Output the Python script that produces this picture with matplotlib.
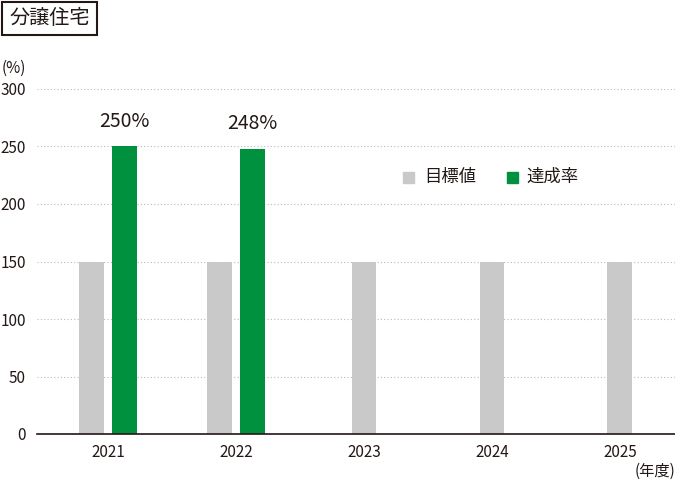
import numpy as np
import matplotlib.pyplot as plt
from matplotlib.patches import Rectangle

plt.rcParams['font.family'] = ['Noto Sans CJK JP', 'DejaVu Sans']

# データ
years = ['2021', '2022', '2023', '2024', '2025']
target = [150, 150, 150, 150, 150]
achieved = [250, 248, None, None, None]
achieved_labels = ['250%', '248%']

gray = '#c9c9c9'
green = '#00913f'
txt = '#231815'

fig = plt.figure(figsize=(6.75, 4.83), dpi=100)
ax = fig.add_axes([37 / 675, 1 - 434 / 483, (675 - 37) / 675, 345 / 483])

x = np.arange(len(years))
w = 0.195
off = 0.13
for i in x:
    if achieved[i] is not None:
        ax.bar(i - off, target[i], w, color=gray, zorder=3)
        ax.bar(i + off, achieved[i], w, color=green, zorder=3)
        ax.text(i + off, achieved[i] + 13, achieved_labels[i], ha='center', va='bottom',
                fontsize=14, color=txt)
    else:
        ax.bar(i, target[i], w, color=gray, zorder=3)

ax.set_xlim(-0.555, 4.43)
ax.set_ylim(0, 300)
ax.set_yticks(range(0, 301, 50))
ax.set_xticks(x)
ax.set_xticklabels(years)
ax.tick_params(length=0, labelsize=11, colors=txt)
ax.tick_params(axis='y', pad=8)
ax.tick_params(axis='x', pad=7)
ax.grid(axis='y', color='#bbbbbb', linestyle=(0, (1, 2)), linewidth=0.8, zorder=0)
for s in ['top', 'right', 'left']:
    ax.spines[s].set_visible(False)
ax.spines['bottom'].set_color(txt)
ax.spines['bottom'].set_linewidth(1.2)
ax.spines['bottom'].set_zorder(4)

# 単位
fig.text(2 / 675, 1 - 68 / 483, '(%)', fontsize=11, color=txt, va='center')
fig.text(675 / 675, 1 - 471 / 483, '(年度)', fontsize=11, color=txt, va='center', ha='right')

# タイトル枠
fig.patches.append(Rectangle((2 / 675, 1 - 35 / 483), 95 / 675, 33 / 483, transform=fig.transFigure,
                             fill=False, edgecolor=txt, linewidth=1.5))
fig.text(49.5 / 675, 1 - 19 / 483, '分譲住宅', fontsize=14.5, color=txt, ha='center', va='center')

# 凡例
fig.patches.append(Rectangle((403 / 675, 1 - 183 / 483), 11 / 675, 11 / 483, transform=fig.transFigure,
                             color=gray))
fig.text(424 / 675, 1 - 177 / 483, '目標値', fontsize=12.5, color=txt, va='center')
fig.patches.append(Rectangle((507 / 675, 1 - 183 / 483), 11 / 675, 11 / 483, transform=fig.transFigure,
                             color=green))
fig.text(526 / 675, 1 - 177 / 483, '達成率', fontsize=12.5, color=txt, va='center')

fig.savefig('out.png', dpi=100)
